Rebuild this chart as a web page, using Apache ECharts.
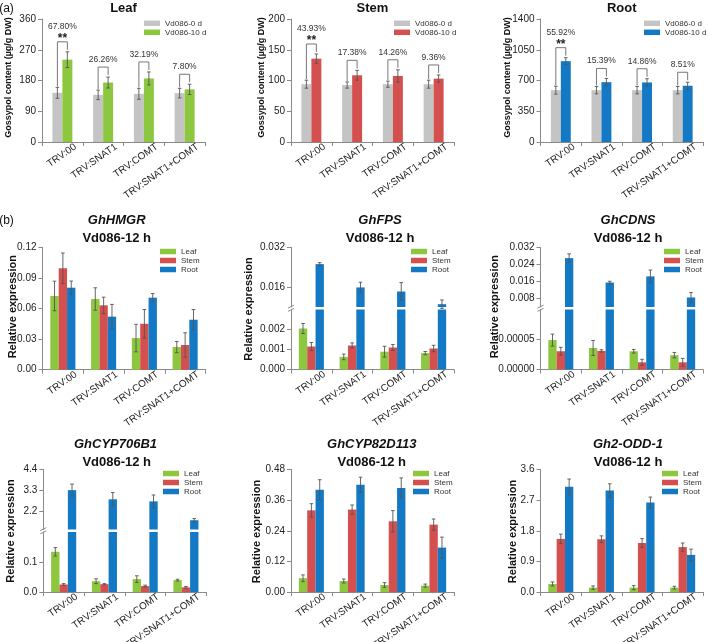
<!DOCTYPE html>
<html><head><meta charset="utf-8">
<script src="https://cdn.jsdelivr.net/npm/echarts@6/dist/echarts.min.js"></script>
<style>html,body{margin:0;padding:0;background:#fff}#c{width:709px;height:642px}</style>
</head><body><div id="c"></div>
<script>
// ---------------- DATA ----------------
const categories = ['TRV:00', 'TRV:SNAT1', 'TRV:COMT', 'TRV:SNAT1+COMT'];
const gossypolSeries = ['Vd086-0 d', 'Vd086-10 d'];
const tissueSeries = ['Leaf', 'Stem', 'Root'];

// (a) gossypol content
const leaf0d = [144, 138, 141, 143];
const leaf0dErr = [16, 14, 16, 14];
const leaf10d = [241, 174, 186, 154];
const leaf10dErr = [23, 16, 19, 15];
const leafPct = ['67.80%', '26.26%', '32.19%', '7.80%'];
const leafSig = ['**', '', '', ''];
const leafTicks = [0, 90, 180, 270, 360];

const stem0d = [94, 92.6, 94, 94];
const stem0dErr = [6.5, 5, 5, 6.5];
const stem10d = [135.5, 108.5, 107.4, 103];
const stem10dErr = [7.6, 8, 10, 6];
const stemPct = ['43.93%', '17.38%', '14.26%', '9.36%'];
const stemSig = ['**', '', '', ''];
const stemTicks = [0, 50, 100, 150, 200];

const root0d = [590, 590, 590, 590];
const root0dErr = [45, 42, 42, 42];
const root10d = [920, 681, 678, 640];
const root10dErr = [40, 42, 42, 40];
const rootPct = ['55.92%', '15.39%', '14.86%', '8.51%'];
const rootSig = ['**', '', '', ''];
const rootTicks = [0, 350, 700, 1050, 1400];

// (b) relative expression
const hmgrLeaf = [0.0723, 0.0693, 0.031, 0.0222];
const hmgrLeafErr = [0.0145, 0.011, 0.0135, 0.0055];
const hmgrStem = [0.0994, 0.0631, 0.045, 0.0242];
const hmgrStemErr = [0.015, 0.008, 0.014, 0.012];
const hmgrRoot = [0.0804, 0.052, 0.0706, 0.049];
const hmgrRootErr = [0.0065, 0.012, 0.004, 0.01];
const hmgrTicks = [0, 0.03, 0.06, 0.09, 0.12];

const fpsLeaf = [0.00205, 0.00063, 0.00089, 0.00082];
const fpsLeafErr = [0.00025, 0.00014, 0.00027, 0.00008];
const fpsStem = [0.00115, 0.0012, 0.0011, 0.00105];
const fpsStemErr = [0.0002, 0.00013, 0.00015, 0.00016];
const fpsRoot = [0.0253, 0.0159, 0.01425, 0.00914];
const fpsRootErr = [0.0006, 0.0021, 0.0036, 0.0017];
const fpsLowTicks = [0, 0.001, 0.002];
const fpsHighTicks = [0.016, 0.032];
const fpsBreak = [0.003, 0.008];

const cdnsLeaf = [0.000049, 0.0000359, 0.0000304, 0.0000239];
const cdnsLeafErr = [0.00001, 0.0000125, 0.000003, 0.0000045];
const cdnsStem = [0.0000304, 0.000031, 0.000012, 0.000012];
const cdnsStemErr = [0.0000065, 0.000002, 0.000005, 0.0000065];
const cdnsRoot = [0.027, 0.0155, 0.0184, 0.0085];
const cdnsRootErr = [0.002, 0.0006, 0.003, 0.0023];
const cdnsLowTicks = [0, 0.00005];
const cdnsHighTicks = [0.008, 0.016, 0.024, 0.032];
const cdnsBreak = [0.0001, 0.004];

const cypLeaf = [0.134, 0.036, 0.043, 0.0396];
const cypLeafErr = [0.014, 0.008, 0.011, 0.003];
const cypStem = [0.025, 0.026, 0.0198, 0.0154];
const cypStemErr = [0.003, 0.002, 0.003, 0.003];
const cypRoot = [3.3, 2.81, 2.70, 1.695];
const cypRootErr = [0.32, 0.36, 0.34, 0.09];
const cypLowTicks = [0, 0.1];
const cypHighTicks = [2.2, 3.3, 4.4];
const cypBreak = [0.2, 1.2];

const cyp82Leaf = [0.054, 0.043, 0.0275, 0.025];
const cyp82LeafErr = [0.013, 0.008, 0.009, 0.006];
const cyp82Stem = [0.32, 0.323, 0.277, 0.264];
const cyp82StemErr = [0.026, 0.018, 0.042, 0.022];
const cyp82Root = [0.401, 0.42, 0.408, 0.174];
const cyp82RootErr = [0.039, 0.03, 0.039, 0.041];
const cyp82Ticks = [0, 0.12, 0.24, 0.36, 0.48];

const oddLeaf = [0.236, 0.128, 0.128, 0.128];
const oddLeafErr = [0.06, 0.05, 0.06, 0.04];
const oddStem = [1.56, 1.55, 1.44, 1.32];
const oddStemErr = [0.14, 0.1, 0.13, 0.12];
const oddRoot = [3.09, 2.98, 2.63, 1.09];
const oddRootErr = [0.23, 0.2, 0.16, 0.17];
const oddTicks = [0, 0.9, 1.8, 2.7, 3.6];

// ---------------- STYLE / LAYOUT ----------------
const FONT = 'Liberation Sans, Arial, sans-serif';
const GREY = '#c4c4c4', GREEN = '#8dc63f', RED = '#d4504f', BLUE = '#1479c4';
const AX = '#8a8a8a';
const W2 = '24.5%', W3 = '20.5%';
const F2 = 0.245, F3 = 0.205;

const grids = [
  {left: 42, top: 19, width: 163, height: 123},        // 0 leaf
  {left: 291, top: 19, width: 163, height: 123},       // 1 stem
  {left: 540.5, top: 19, width: 162.5, height: 123},   // 2 root
  {left: 42.5, top: 247.3, width: 163, height: 122.4}, // 3 hmgr
  {left: 291, top: 247.5, width: 163, height: 59.5},   // 4 fps hi
  {left: 291, top: 309.5, width: 163, height: 60},     // 5 fps lo
  {left: 540.5, top: 247.5, width: 162.5, height: 59.5}, // 6 cdns hi
  {left: 540.5, top: 309.5, width: 162.5, height: 60},   // 7 cdns lo
  {left: 43.3, top: 469.5, width: 163, height: 60},    // 8 cyp hi
  {left: 43.3, top: 532, width: 163, height: 60},      // 9 cyp lo
  {left: 291, top: 469.5, width: 163, height: 122.5},  // 10 cyp82
  {left: 540.5, top: 469.5, width: 162.5, height: 122.5} // 11 odd
];

function xAx(gi, show) {
  return {
    type: 'category', gridIndex: gi, data: categories, boundaryGap: true,
    axisLine: {show: show, lineStyle: {color: AX, width: 1}},
    axisTick: {show: show, length: 4, lineStyle: {color: AX}},
    axisLabel: {show: show, rotate: 35, margin: 13, align: 'right', padding: [0, -16, 0, 0],
      fontSize: 10, color: '#222', fontFamily: FONT, interval: 0},
    splitLine: {show: false}
  };
}
function yAx(gi, ticks, min, max, dec) {
  return {
    type: 'value', gridIndex: gi, min: min, max: max,
    axisLine: {show: true, lineStyle: {color: AX, width: 1}},
    axisTick: {show: true, length: 4, inside: false, customValues: ticks, lineStyle: {color: AX}},
    axisLabel: {customValues: ticks, formatter: v => Number(v).toFixed(dec),
      fontSize: 10, color: '#222', fontFamily: FONT, margin: 6},
    splitLine: {show: false}
  };
}
function bar(name, gi, data, color, w) {
  return {type: 'bar', name: name, xAxisIndex: gi, yAxisIndex: gi, data: data,
    barWidth: w, barGap: '0%', itemStyle: {color: color}, clip: true, animation: false, silent: true};
}
function err(gi, vals, errs, idx, n, frac) {
  return {
    type: 'custom', xAxisIndex: gi, yAxisIndex: gi, z: 5, silent: true, animation: false,
    data: vals.map((v, i) => [i, v, errs[i]]),
    encode: {x: 0, y: 1},
    renderItem: function (params, api) {
      const cat = api.value(0), v = api.value(1), e = api.value(2);
      const p = api.coord([cat, v]);
      const bw = api.size([1, 0])[0] * frac;
      const x = p[0] + (idx - (n - 1) / 2) * bw;
      const y1 = api.coord([cat, v + e])[1], y2 = api.coord([cat, v - e])[1];
      const c = 1.8, st = {stroke: '#555', lineWidth: 0.9};
      return {type: 'group', children: [
        {type: 'line', shape: {x1: x, y1: y1, x2: x, y2: y2}, style: st},
        {type: 'line', shape: {x1: x - c, y1: y1, x2: x + c, y2: y1}, style: st},
        {type: 'line', shape: {x1: x - c, y1: y2, x2: x + c, y2: y2}, style: st}
      ]};
    }
  };
}
function brackets(gi, lo, loErr, hi, hiErr, pct, sig) {
  return {
    type: 'custom', xAxisIndex: gi, yAxisIndex: gi, z: 6, silent: true, animation: false,
    data: lo.map((v, i) => [i, v + loErr[i], hi[i] + hiErr[i]]),
    encode: {x: 0, y: [1, 2]},
    renderItem: function (params, api) {
      const i = params.dataIndex;
      const cat = api.value(0);
      const pL = api.coord([cat, api.value(1)]);
      const pH = api.coord([cat, api.value(2)]);
      const bw = api.size([1, 0])[0] * F2;
      const xL = pL[0] - bw / 2, xR = pL[0] + bw / 2;
      const yL = pL[1] - 1, yR = pH[1] - 2;
      const yT = Math.min(yL, yR) - 8;
      const kids = [
        {type: 'polyline', shape: {points: [[xL, yL], [xL, yT], [xR, yT], [xR, yR]]},
          style: {stroke: '#777', lineWidth: 1, fill: null}},
        {type: 'text', x: pL[0], y: sig[i] ? yT - 15 : yT - 7.5,
          style: {text: pct[i], fontSize: 8.5, fontFamily: FONT, fill: '#333',
            align: 'center', verticalAlign: 'middle', textAlign: 'center', textVerticalAlign: 'middle'}}
      ];
      if (sig[i]) {
        kids.push({type: 'text', x: pL[0], y: yT - 3,
          style: {text: sig[i], fontSize: 12, fontWeight: 'bold', fontFamily: FONT, fill: '#222',
            align: 'center', verticalAlign: 'middle', textAlign: 'center', textVerticalAlign: 'middle'}});
      }
      return {type: 'group', children: kids};
    }
  };
}
function legend(left, top, items) {
  return {orient: 'vertical', left: left, top: top, itemWidth: 16, itemHeight: 5.5, itemGap: 0,
    padding: 0, icon: 'rect', selectedMode: false,
    textStyle: {fontSize: 8, lineHeight: 9, color: '#333', fontFamily: FONT}, data: items};
}
const dash = a => a.map(() => '-');

// ---------------- BUILD ----------------
const xAxis = [], yAxis = [], series = [];
grids.forEach((g, i) => {
  const hidden = (i === 4 || i === 6 || i === 8);
  xAxis.push(xAx(i, !hidden));
});
yAxis.push(yAx(0, leafTicks, leafTicks[0], leafTicks[4], 0));
yAxis.push(yAx(1, stemTicks, stemTicks[0], stemTicks[4], 0));
yAxis.push(yAx(2, rootTicks, rootTicks[0], rootTicks[4], 0));
yAxis.push(yAx(3, hmgrTicks, hmgrTicks[0], hmgrTicks[4], 2));
yAxis.push(yAx(4, fpsHighTicks, fpsBreak[1], fpsHighTicks[1], 3));
yAxis.push(yAx(5, fpsLowTicks, 0, fpsBreak[0], 3));
yAxis.push(yAx(6, cdnsHighTicks, cdnsBreak[1], cdnsHighTicks[3], 3));
yAxis.push(yAx(7, cdnsLowTicks, 0, cdnsBreak[0], 5));
yAxis.push(yAx(8, cypHighTicks, cypBreak[1], cypHighTicks[2], 1));
yAxis.push(yAx(9, cypLowTicks, 0, cypBreak[0], 1));
yAxis.push(yAx(10, cyp82Ticks, cyp82Ticks[0], cyp82Ticks[4], 2));
yAxis.push(yAx(11, oddTicks, oddTicks[0], oddTicks[4], 1));

// (a)
[[0, leaf0d, leaf0dErr, leaf10d, leaf10dErr, leafPct, leafSig, GREEN],
 [1, stem0d, stem0dErr, stem10d, stem10dErr, stemPct, stemSig, RED],
 [2, root0d, root0dErr, root10d, root10dErr, rootPct, rootSig, BLUE]].forEach(p => {
  const [gi, a, ae, b, be, pc, sg, col] = p;
  series.push(bar(gossypolSeries[0], gi, a, GREY, W2));
  series.push(bar(gossypolSeries[1], gi, b, col, W2));
  series.push(err(gi, a, ae, 0, 2, F2));
  series.push(err(gi, b, be, 1, 2, F2));
  series.push(brackets(gi, a, ae, b, be, pc, sg));
});

// (b) single-scale panels
[[3, hmgrLeaf, hmgrLeafErr, hmgrStem, hmgrStemErr, hmgrRoot, hmgrRootErr],
 [10, cyp82Leaf, cyp82LeafErr, cyp82Stem, cyp82StemErr, cyp82Root, cyp82RootErr],
 [11, oddLeaf, oddLeafErr, oddStem, oddStemErr, oddRoot, oddRootErr]].forEach(p => {
  const [gi, l, le, s, se, r, re] = p;
  series.push(bar(tissueSeries[0], gi, l, GREEN, W3));
  series.push(bar(tissueSeries[1], gi, s, RED, W3));
  series.push(bar(tissueSeries[2], gi, r, BLUE, W3));
  series.push(err(gi, l, le, 0, 3, F3));
  series.push(err(gi, s, se, 1, 3, F3));
  series.push(err(gi, r, re, 2, 3, F3));
});

// (b) broken-axis panels: upper grid shows Root, lower grid shows all
[[4, 5, fpsLeaf, fpsLeafErr, fpsStem, fpsStemErr, fpsRoot, fpsRootErr],
 [6, 7, cdnsLeaf, cdnsLeafErr, cdnsStem, cdnsStemErr, cdnsRoot, cdnsRootErr],
 [8, 9, cypLeaf, cypLeafErr, cypStem, cypStemErr, cypRoot, cypRootErr]].forEach(p => {
  const [hi, lo, l, le, s, se, r, re] = p;
  series.push(bar(tissueSeries[0], hi, dash(l), GREEN, W3));
  series.push(bar(tissueSeries[1], hi, dash(s), RED, W3));
  series.push(bar(tissueSeries[2], hi, r, BLUE, W3));
  series.push(err(hi, r, re, 2, 3, F3));
  series.push(bar(tissueSeries[0], lo, l, GREEN, W3));
  series.push(bar(tissueSeries[1], lo, s, RED, W3));
  series.push(bar(tissueSeries[2], lo, r, BLUE, W3));
  series.push(err(lo, l, le, 0, 3, F3));
  series.push(err(lo, s, se, 1, 3, F3));
});

const gItems = c => [{name: gossypolSeries[0], itemStyle: {color: GREY}}, {name: gossypolSeries[1], itemStyle: {color: c}}];
const tItems = [{name: tissueSeries[0], itemStyle: {color: GREEN}}, {name: tissueSeries[1], itemStyle: {color: RED}}, {name: tissueSeries[2], itemStyle: {color: BLUE}}];
const legends = [
  legend(144, 18.8, gItems(GREEN)), legend(394, 18.8, gItems(RED)), legend(644, 18.8, gItems(BLUE)),
  legend(160, 247, tItems), legend(411, 247, tItems), legend(664, 247, tItems),
  legend(163, 469, tItems), legend(413, 469, tItems), legend(662, 469, tItems)
];

// ---------------- TEXT DECORATION ----------------
function T(x, y, text, size, weight, style, rot) {
  return {type: 'text', x: x, y: y, rotation: rot || 0, silent: true,
    style: {text: text, fontSize: size, fontWeight: weight || 'normal', fontStyle: style || 'normal',
      fontFamily: FONT, fill: '#111', align: 'center', verticalAlign: 'middle',
      textAlign: 'center', textVerticalAlign: 'middle'}};
}
const R = Math.PI / 2;
const graphic = [
  T(6.5, 9, '(a)', 12), T(6.5, 221, '(b)', 12),
  T(123.5, 8, 'Leaf', 13, 'bold'), T(372.5, 8, 'Stem', 13, 'bold'), T(621.7, 8, 'Root', 13, 'bold'),
  T(9, 77.5, 'Gossypol content (µg/g DW)', 9, 'bold', null, R),
  T(261.7, 77.5, 'Gossypol content (µg/g DW)', 9, 'bold', null, R),
  T(507.3, 77.5, 'Gossypol content (µg/g DW)', 9, 'bold', null, R),
  T(116.7, 220, 'GhHMGR', 13, 'bold', 'italic'), T(116.7, 238.5, 'Vd086-12 h', 13, 'bold'),
  T(380, 220, 'GhFPS', 13, 'bold', 'italic'), T(380, 238.5, 'Vd086-12 h', 13, 'bold'),
  T(628, 220, 'GhCDNS', 13, 'bold', 'italic'), T(628, 238.5, 'Vd086-12 h', 13, 'bold'),
  T(115.5, 444, 'GhCYP706B1', 13, 'bold', 'italic'), T(116.7, 462.5, 'Vd086-12 h', 13, 'bold'),
  T(371.7, 444, 'GhCYP82D113', 13, 'bold', 'italic'), T(371.7, 462.5, 'Vd086-12 h', 13, 'bold'),
  T(628, 444, 'Gh2-ODD-1', 13, 'bold', 'italic'), T(628, 462.5, 'Vd086-12 h', 13, 'bold'),
  T(13.3, 306.7, 'Relative expression', 11, 'bold', null, R),
  T(249, 309, 'Relative expression', 11, 'bold', null, R),
  T(495, 306.7, 'Relative expression', 11, 'bold', null, R),
  T(10.5, 531, 'Relative expression', 11, 'bold', null, R),
  T(256.7, 531.5, 'Relative expression', 11, 'bold', null, R),
  T(512.7, 531.5, 'Relative expression', 11, 'bold', null, R)
];
// axis break marks
[[4, 5], [6, 7], [8, 9]].forEach(([h, l]) => {
  const ax = grids[h].left;
  const gy = (grids[h].top + grids[h].height + grids[l].top) / 2;
  [-1.6, 1.6].forEach(d => graphic.push({type: 'line', silent: true,
    shape: {x1: ax - 3, y1: gy + d + 1.5, x2: ax + 3, y2: gy + d - 1.5},
    style: {stroke: AX, lineWidth: 1}}));
});

const chart = echarts.init(document.getElementById('c'), null, {renderer: 'canvas'});
chart.setOption({
  animation: false,
  backgroundColor: '#fff',
  grid: grids.map(g => Object.assign({containLabel: false, outerBoundsMode: 'none'}, g)),
  xAxis: xAxis, yAxis: yAxis, series: series, legend: legends, graphic: graphic
});
</script></body></html>
